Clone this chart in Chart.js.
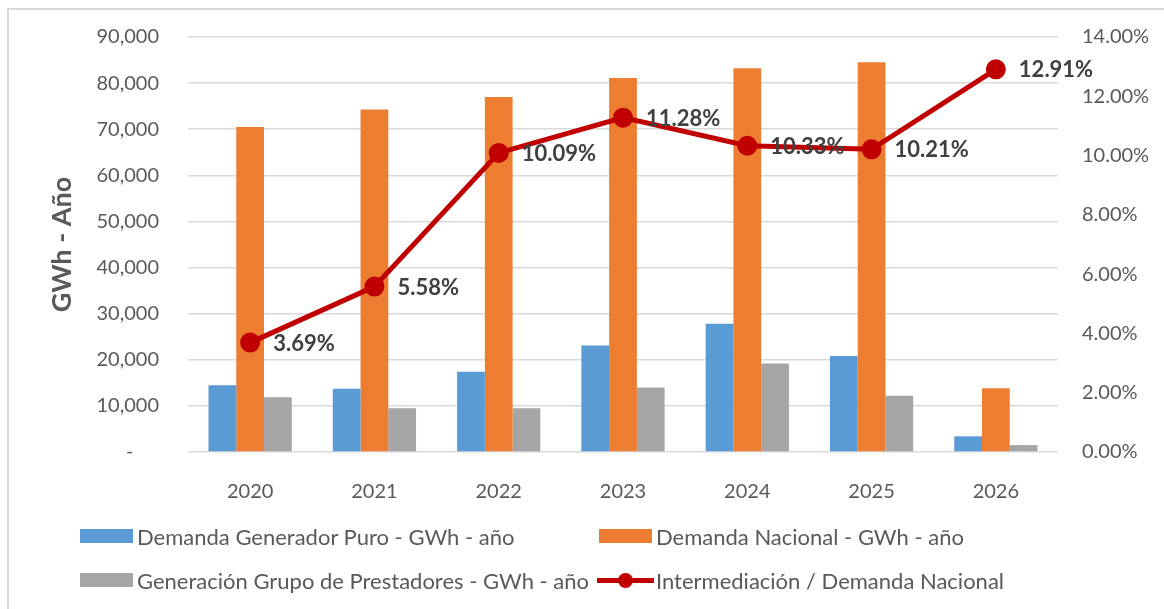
<!DOCTYPE html>
<html>
<head>
<meta charset="utf-8">
<script src="https://cdn.jsdelivr.net/npm/chart.js@4.4.1/dist/chart.umd.min.js"></script>
<style>
  html, body { margin: 0; padding: 0; background: #fff; }
  body { width: 1164px; height: 609px; overflow: hidden; position: relative; font-family: Lato, sans-serif; }
  #frame { position: absolute; left: 7px; top: 8px; width: 1300px; height: 800px;
           border-left: 2px solid #D9D9D9; border-top: 2px solid #D9D9D9; }
  #wrap { position: absolute; left: 0; top: 0; width: 1164px; height: 609px; }
  .item { position: absolute; display: flex; align-items: center; font-size: 22px; color: #595959; white-space: nowrap; }
  .box { width: 53px; height: 14px; margin-right: 4px; }
  .lineMark { width: 57px; height: 16px; margin-right: 2px; position: relative; }
  .lineMark:before { content: ""; position: absolute; left: 0; right: 0; top: 6px; height: 5px; background: #C00000; }
  .lineMark:after { content: ""; position: absolute; left: 21px; top: 1px; width: 15px; height: 15px; border-radius: 50%; background: #C00000; }
</style>
</head>
<body>
<div id="frame"></div>
<div id="wrap"><canvas id="chart" width="1164" height="609"></canvas></div>
<div id="legend"></div>
<script>
const years = ["2020", "2021", "2022", "2023", "2024", "2025", "2026"];

// GWh - año
const generadorPuro = [14500, 13700, 17400, 23100, 27800, 20800, 3400];
const demandaNacional = [70500, 74300, 77000, 81100, 83200, 84500, 13800];
const grupoPrestadores = [11900, 9500, 9500, 14000, 19200, 12200, 1500];

// porcentaje
const intermediacion = [3.69, 5.58, 10.09, 11.28, 10.33, 10.21, 12.91];

const labelGenerador = "Demanda Generador Puro - GWh - año";
const labelNacional = "Demanda Nacional - GWh - año";
const labelPrestadores = "Generación Grupo de Prestadores - GWh - año";
const labelInter = "Intermediación / Demanda Nacional";

Chart.defaults.font.family = "Lato, sans-serif";
Chart.defaults.color = "#595959";

// etiquetas de datos de la linea
const pointLabels = {
  id: "pointLabels",
  afterDatasetsDraw(chart) {
    const ctx = chart.ctx;
    const meta = chart.getDatasetMeta(3);
    ctx.save();
    ctx.font = "bold 22px Lato, sans-serif";
    ctx.fillStyle = "#404040";
    ctx.textBaseline = "middle";
    ctx.textAlign = "left";
    meta.data.forEach((pt, i) => {
      ctx.fillText(intermediacion[i].toFixed(2) + "%", pt.x + 23, pt.y + 1);
    });
    ctx.restore();
  }
};

new Chart(document.getElementById("chart"), {
  type: "bar",
  data: {
    labels: years,
    datasets: [
      { label: labelGenerador, data: generadorPuro, backgroundColor: "#5B9BD5", yAxisID: "y", order: 1 },
      { label: labelNacional, data: demandaNacional, backgroundColor: "#ED7D31", yAxisID: "y", order: 1 },
      { label: labelPrestadores, data: grupoPrestadores, backgroundColor: "#A5A5A5", yAxisID: "y", order: 1 },
      {
        type: "line", label: labelInter, data: intermediacion, yAxisID: "y1", order: 0,
        borderColor: "#C00000", backgroundColor: "#C00000", borderWidth: 5,
        pointRadius: 7.5, pointHoverRadius: 7.5, pointBackgroundColor: "#C00000", tension: 0
      }
    ]
  },
  options: {
    responsive: false,
    animation: false,
    layout: { padding: { left: 40, right: 0, top: 37, bottom: 107 } },
    datasets: { bar: { categoryPercentage: 0.67, barPercentage: 1.0 } },
    plugins: { legend: { display: false }, tooltip: { enabled: false } },
    scales: {
      x: {
        grid: { display: false },
        border: { display: false },
        ticks: { font: { size: 20 }, color: "#595959", padding: 20 },
        afterFit(s) { s.height = 50; }
      },
      y: {
        position: "left",
        min: 0, max: 90000,
        ticks: {
          stepSize: 10000, font: { size: 20 }, color: "#595959", padding: 3,
          callback: v => v === 0 ? "-     " : v.toLocaleString("en-US")
        },
        grid: { color: "#D9D9D9", lineWidth: 1.5, drawTicks: true, tickLength: 26, tickColor: "rgba(0,0,0,0)" },
        border: { display: false },
        title: { display: true, text: "GWh - Año", font: { size: 27, weight: "bold" }, color: "#595959", padding: { top: 6, bottom: 0 } },
        afterFit(s) { s.width = 148; }
      },
      y1: {
        position: "right",
        min: 0, max: 14,
        ticks: {
          stepSize: 2, font: { size: 20 }, color: "#595959", padding: 3,
          callback: v => v.toFixed(2) + "%"
        },
        grid: { display: true, drawOnChartArea: false, color: "rgba(0,0,0,0)", drawTicks: true, tickLength: 21, tickColor: "rgba(0,0,0,0)" },
        border: { display: false },
        afterFit(s) { s.width = 106; }
      }
    }
  },
  plugins: [pointLabels]
});

// leyenda en dos columnas, como en el original
const legendItems = [
  { text: labelGenerador, color: "#5B9BD5", x: 80, y: 536 },
  { text: labelNacional, color: "#ED7D31", x: 599, y: 536 },
  { text: labelPrestadores, color: "#A5A5A5", x: 80, y: 580 },
  { text: labelInter, line: true, x: 597, y: 580 }
];
const legendEl = document.getElementById("legend");
legendItems.forEach(it => {
  const div = document.createElement("div");
  div.className = "item";
  div.style.left = it.x + "px";
  div.style.top = (it.y - 13) + "px";
  div.style.height = "26px";
  const mark = document.createElement("span");
  if (it.line) {
    mark.className = "lineMark";
  } else {
    mark.className = "box";
    mark.style.background = it.color;
  }
  const txt = document.createElement("span");
  txt.textContent = it.text;
  div.appendChild(mark);
  div.appendChild(txt);
  legendEl.appendChild(div);
});
</script>
</body>
</html>
